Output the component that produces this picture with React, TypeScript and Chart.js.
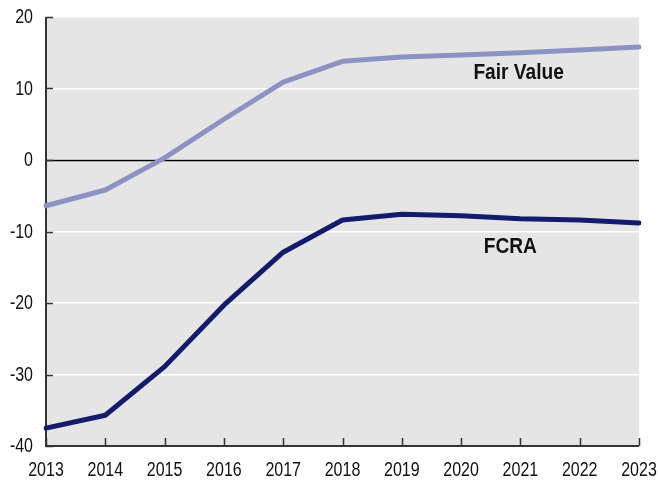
import React, { useEffect, useRef } from "react";
import { Chart, registerables } from "chart.js";

Chart.register(...registerables);

const years = ["2013", "2014", "2015", "2016", "2017", "2018", "2019", "2020", "2021", "2022", "2023"];
const fairValue = [-6.4, -4.2, 0.3, 5.7, 10.9, 13.8, 14.4, 14.7, 15.0, 15.4, 15.8];
const fcra = [-37.5, -35.7, -28.9, -20.3, -12.9, -8.4, -7.6, -7.8, -8.2, -8.4, -8.8];
const yTicks = [20, 10, 0, -10, -20, -30, -40];
const seriesLabels = ["Fair Value", "FCRA"];
const labelX = [7.97, 7.83];
const labelY = [12.2, -12.2];

const FONT = "'Liberation Sans', Arial, sans-serif";

function drawNarrow(ctx: any, text: string, x: number, y: number, align: string, sx: number) {
  ctx.save();
  ctx.translate(x, y);
  ctx.scale(sx, 1);
  ctx.textAlign = align;
  ctx.fillText(text, 0, 0);
  ctx.restore();
}

const decorPlugin = {
  id: "decor",
  beforeDraw(chart: any) {
    const { ctx, chartArea: a } = chart;
    ctx.save();
    ctx.fillStyle = "#e5e5e5";
    ctx.fillRect(a.left, a.top, a.right - a.left, a.bottom - a.top);
    ctx.restore();
  },
  beforeDatasetsDraw(chart: any) {
    const { ctx, chartArea: a, scales } = chart;
    const y = scales.y;
    const x = scales.x;
    ctx.save();
    // zero line
    const y0 = Math.round(y.getPixelForValue(0)) + 0.5;
    ctx.strokeStyle = "#000";
    ctx.lineWidth = 1.5;
    ctx.beginPath();
    ctx.moveTo(a.left, y0);
    ctx.lineTo(a.right, y0);
    ctx.stroke();
    // axes
    ctx.strokeStyle = "#333";
    ctx.lineWidth = 2;
    ctx.beginPath();
    ctx.moveTo(a.left, a.top);
    ctx.lineTo(a.left, a.bottom);
    ctx.lineTo(a.right, a.bottom);
    ctx.stroke();
    ctx.lineWidth = 1.5;
    ctx.beginPath();
    yTicks.forEach((v) => {
      const py = Math.round(y.getPixelForValue(v)) + 0.5;
      ctx.moveTo(a.left, py);
      ctx.lineTo(a.left + 7, py);
    });
    years.forEach((_, i) => {
      const px = Math.round(x.getPixelForValue(i)) + 0.5;
      ctx.moveTo(px, a.bottom);
      ctx.lineTo(px, a.bottom - 8);
    });
    ctx.stroke();
    // tick labels
    ctx.fillStyle = "#111";
    ctx.font = `20px ${FONT}`;
    ctx.textBaseline = "middle";
    yTicks.forEach((v) => {
      drawNarrow(ctx, String(v), a.left - 13, y.getPixelForValue(v) + 0.5, "right", 0.8);
    });
    years.forEach((t, i) => {
      drawNarrow(ctx, t, x.getPixelForValue(i), a.bottom + 24.5, "center", 0.8);
    });
    ctx.restore();
  },
  afterDatasetsDraw(chart: any) {
    const { ctx, scales } = chart;
    ctx.save();
    ctx.fillStyle = "#111";
    ctx.font = `bold 22px ${FONT}`;
    ctx.textBaseline = "middle";
    seriesLabels.forEach((t, i) => {
      drawNarrow(ctx, t, scales.x.getPixelForValue(labelX[i]), scales.y.getPixelForValue(labelY[i]), "center", 0.87);
    });
    ctx.restore();
  },
};

export default function App() {
  const ref = useRef<HTMLCanvasElement>(null);
  useEffect(() => {
    if (!ref.current) return;
    const chart = new Chart(ref.current, {
      type: "line",
      data: {
        labels: years,
        datasets: [
          {
            label: "Fair Value",
            data: fairValue,
            borderColor: "#8c93c3",
            borderWidth: 5,
            pointRadius: 0,
            tension: 0,
            borderCapStyle: "round",
            borderJoinStyle: "round",
          },
          {
            label: "FCRA",
            data: fcra,
            borderColor: "#131b6c",
            borderWidth: 5,
            pointRadius: 0,
            tension: 0,
            borderCapStyle: "round",
            borderJoinStyle: "round",
          },
        ],
      },
      options: {
        animation: false,
        responsive: false,
        maintainAspectRatio: false,
        layout: { padding: { top: 17, right: 19, left: 0, bottom: 0 } },
        plugins: { legend: { display: false }, tooltip: { enabled: false } },
        scales: {
          x: {
            type: "category",
            offset: false,
            grid: { display: false, drawTicks: false },
            border: { display: false },
            ticks: { display: false },
            afterFit: (s: any) => { s.height = 37; },
          },
          y: {
            min: -40,
            max: 20,
            afterBuildTicks: (s: any) => { s.ticks = yTicks.map((v) => ({ value: v })); },
            grid: { color: "#ffffff", lineWidth: 1.5, drawTicks: false },
            border: { display: false },
            ticks: { display: false },
            afterFit: (s: any) => { s.width = 46; },
          },
        },
      },
      plugins: [decorPlugin],
    });
    return () => chart.destroy();
  }, []);
  return (
    <div style={{ position: "fixed", left: 0, top: 0, width: 658, height: 483, background: "#fff" }}>
      <canvas ref={ref} width={658} height={483} style={{ width: 658, height: 483 }} />
    </div>
  );
}
